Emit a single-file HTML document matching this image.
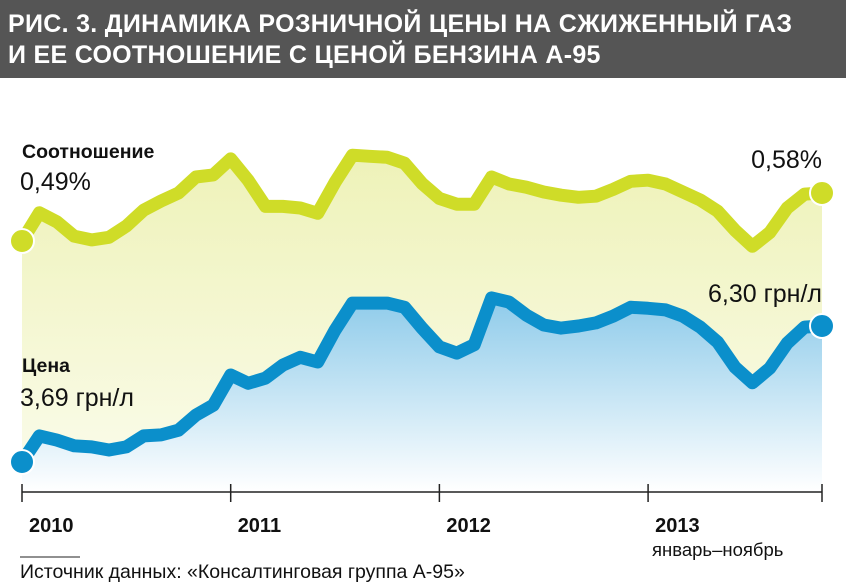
<!DOCTYPE html>
<html><head><meta charset="utf-8">
<style>
body{margin:0;width:846px;height:584px;background:#fff;overflow:hidden;font-family:"Liberation Sans",sans-serif}
#hdr{position:absolute;left:0;top:0;width:846px;height:78px;background:#555555;color:#fff;font-weight:bold;font-size:25px;line-height:31px;padding:9px 0 0 8px;box-sizing:border-box;letter-spacing:0.3px}
svg{position:absolute;left:0;top:0}
</style></head><body>
<div id="hdr">РИС. 3. ДИНАМИКА РОЗНИЧНОЙ ЦЕНЫ НА СЖИЖЕННЫЙ ГАЗ<br>И ЕЕ СООТНОШЕНИЕ С ЦЕНОЙ БЕНЗИНА А-95</div>
<svg id="c" width="846" height="584">
<defs>
<linearGradient id="gy" x1="0" y1="0" x2="0" y2="1"><stop offset="0" stop-color="#eef2b8"/><stop offset="1" stop-color="#fbfced"/></linearGradient>
<linearGradient id="gb" x1="0" y1="0" x2="0" y2="1"><stop offset="0" stop-color="#8ecbea"/><stop offset="1" stop-color="#ffffff"/></linearGradient>
</defs>
</svg>
<script>
const months = 47;
const yearLabels = ["2010","2011","2012","2013"];
const ratio = [0.49,0.543,0.526,0.499,0.492,0.497,0.518,0.548,0.565,0.580,0.610,0.614,0.644,0.604,0.555,0.555,0.552,0.542,0.600,0.651,0.649,0.647,0.636,0.598,0.570,0.559,0.559,0.610,0.597,0.591,0.582,0.576,0.572,0.574,0.587,0.602,0.604,0.597,0.582,0.567,0.546,0.510,0.480,0.506,0.552,0.578,0.58];
const price = [3.69,4.19,4.11,4.00,3.98,3.92,3.98,4.19,4.21,4.30,4.59,4.78,5.36,5.20,5.30,5.55,5.70,5.61,6.22,6.74,6.74,6.74,6.66,6.26,5.90,5.78,5.94,6.84,6.76,6.51,6.32,6.26,6.30,6.36,6.49,6.66,6.64,6.61,6.49,6.28,5.99,5.51,5.21,5.49,5.97,6.28,6.30];
const svg=document.getElementById('c');const NS='http://www.w3.org/2000/svg';
function xs(i){return 22+i*(800/46);}
function yr(v){return 241-(v-0.49)*533;}
function yp(v){return 462-(v-3.69)*52.1;}
function mk(t,a){const e=document.createElementNS(NS,t);for(const k in a)e.setAttribute(k,a[k]);svg.appendChild(e);return e;}
function series(vals,yf,fill,col,nm){
  let d=vals.map((v,i)=>(i?'L':'M')+xs(i).toFixed(1)+','+yf(v).toFixed(1)).join('');
  const a=mk('path',{d:d+'L'+xs(vals.length-1)+',492L'+xs(0)+',492Z',fill:fill});
  
  
  const l=mk('path',{d:d,fill:'none',stroke:col,'stroke-width':13,'stroke-linejoin':'round'});
  
  
  [0,vals.length-1].forEach(i=>{const c=mk('circle',{cx:xs(i),cy:yf(vals[i]),r:12,fill:col,stroke:'#fff','stroke-width':2});
    
    });
}
series(ratio,yr,'url(#gy)','#cfdc28','ratio');
series(price,yp,'url(#gb)','#0b8fcb','price');
const ax=mk('line',{x1:22,y1:492,x2:822,y2:492,stroke:'#222','stroke-width':1.5});


for(let k=0;k<=4;k++){const x=k<4?xs(k*12):xs(46);
  const t=mk('line',{x1:x,y1:484,x2:x,y2:502,stroke:'#222','stroke-width':1.5});
  
  
  if(k<4){const tx=mk('text',{x:x+7,y:532,'font-size':20,'font-weight':'bold',fill:'#111'});tx.textContent=yearLabels[k];
    
    }}
function txt(s,x,y,sz,w,anchor,nm){const t=mk('text',{x:x,y:y,'font-size':sz,'font-weight':w,fill:'#111','text-anchor':anchor||'start'});t.textContent=s;
  
  }
txt('Соотношение',22,158,19.5,'bold','start','ratio-label');
txt('0,49%',20,190,25,'normal','start','ratio-start-value');
txt('0,58%',822,168,25,'normal','end','ratio-end-value');
txt('Цена',22,372,19.5,'bold','start','price-label');
txt('3,69 грн/л',20,406,25,'normal','start','price-start-value');
txt('6,30 грн/л',822,302,25,'normal','end','price-end-value');
txt('январь–ноябрь',652,556,18.5,'normal','start','period-note');
const sl=mk('line',{x1:20,y1:557,x2:80,y2:557,stroke:'#222','stroke-width':1});


txt('Источник данных: «Консалтинговая группа А-95»',20,578,19.5,'normal','start','source-note');
</script>
</body></html>
